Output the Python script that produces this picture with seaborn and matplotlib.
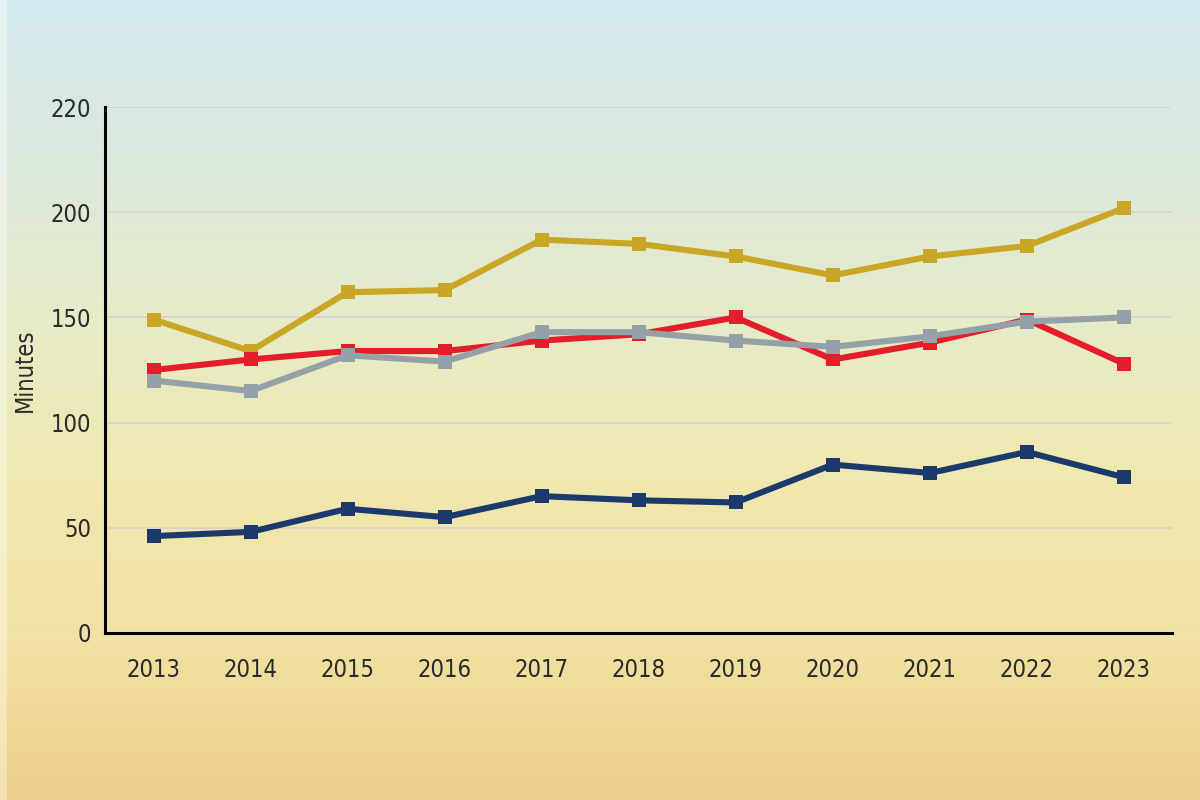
import numpy as np
import pandas as pd
import matplotlib
matplotlib.use("Agg")
from matplotlib import pyplot as plt
from matplotlib.colors import LinearSegmentedColormap
import seaborn as sns

years = [2013, 2014, 2015, 2016, 2017, 2018, 2019, 2020, 2021, 2022, 2023]
gold_vals = [149, 134, 162, 163, 187, 185, 179, 170, 179, 184, 202]
red_vals = [125, 130, 134, 134, 139, 142, 150, 130, 138, 149, 128]
gray_vals = [120, 115, 132, 129, 143, 143, 139, 136, 141, 148, 150]
navy_vals = [46, 48, 59, 55, 65, 63, 62, 80, 76, 86, 74]

series_names = ["gold", "red", "gray", "navy"]
series_colors = ["#c9a626", "#e31d2a", "#95a1a8", "#1b396b"]
ytick_pos = [0, 50, 100, 150, 200, 250]
ytick_labels = ["0", "50", "100", "150", "200", "220"]

frames = []
for name, vals in zip(series_names, [gold_vals, red_vals, gray_vals, navy_vals]):
    frames.append(pd.DataFrame({"year": years, "minutes": vals, "series": name}))
df = pd.concat(frames, ignore_index=True)

sns.set_style("white")
plt.rcParams["font.family"] = ["DejaVu Sans"]
plt.rcParams["font.stretch"] = "condensed"

fig = plt.figure(figsize=(12, 8), dpi=100)

# background gradient, sky at top, warm at bottom
bg = fig.add_axes([0, 0, 1, 1])
cmap = LinearSegmentedColormap.from_list(
    "sky", ["#d3e8ee", "#dbe9dc", "#e6ebc8", "#f0e8b0", "#f2e2a4", "#eccf8c"])
grad = np.linspace(0, 1, 400).reshape(-1, 1)
bg.imshow(grad, aspect="auto", cmap=cmap, extent=[0, 1, 0, 1], origin="upper")
bg.axvspan(0, 0.006, color="white", alpha=0.35, lw=0)
bg.set_xlim(0, 1)
bg.set_ylim(0, 1)
bg.axis("off")

ax = fig.add_axes([0.0875, 0.209, 0.8895, 0.657])
ax.set_facecolor("none")

for y in ytick_pos[1:]:
    ax.axhline(y, color="#d8cdd5", lw=1.1, zorder=0)

sns.lineplot(data=df, x="year", y="minutes", hue="series", hue_order=series_names,
             palette=series_colors, marker="s", markersize=10.5, markeredgewidth=0,
             linewidth=4.4, dashes=False, legend=False, ax=ax)

ax.set_xlim(2012.5, 2023.5)
ax.set_ylim(0, 250)
ax.set_xticks(years)
ax.set_xticklabels([str(y) for y in years])
ax.set_yticks(ytick_pos)
ax.set_yticklabels(ytick_labels)
ax.tick_params(axis="x", length=0, pad=18, labelsize=17, labelcolor="#2a2a2a")
ax.tick_params(axis="y", length=0, pad=10, labelsize=17, labelcolor="#2a2a2a")
ax.set_xlabel("")
ax.set_ylabel("Minutes", fontsize=17, color="#2a2a2a")
ax.yaxis.set_label_coords(-0.064, 0.5)

for side in ["top", "right"]:
    ax.spines[side].set_visible(False)
for side in ["left", "bottom"]:
    ax.spines[side].set_color("black")
    ax.spines[side].set_linewidth(2.2)

fig.savefig("out.png", dpi=100)
